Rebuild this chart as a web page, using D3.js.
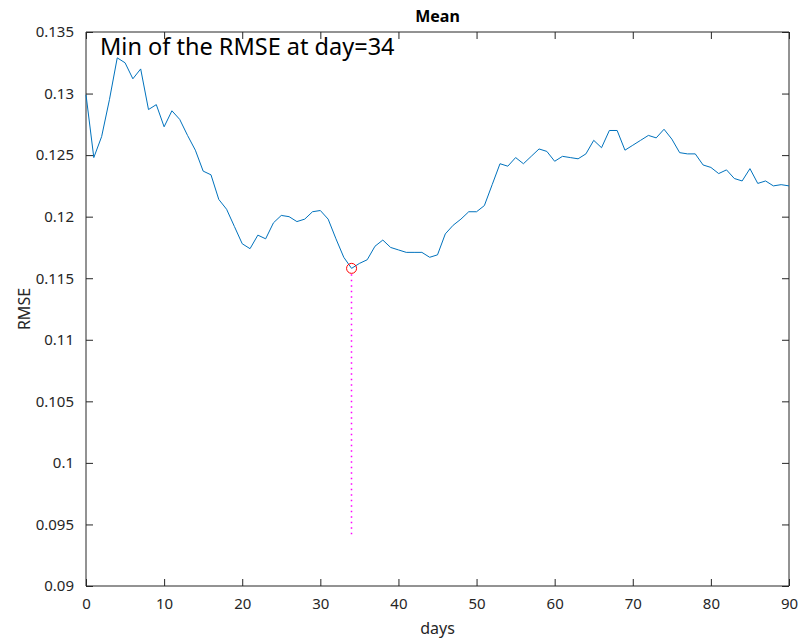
<!DOCTYPE html>
<html><head><meta charset="utf-8">
<script src="https://cdn.jsdelivr.net/npm/d3@7"></script>
<style>body{margin:0;background:#fff;} svg{display:block;}</style>
</head><body>
<script>
const days = d3.range(0, 91);
const rmse = [
0.1299,0.1248,0.1265,0.1295,0.1329,0.1325,0.1312,0.1320,0.1287,0.1291,
0.1273,0.1286,0.1279,0.1266,0.1254,0.1237,0.1234,0.1214,0.1206,0.1192,
0.1178,0.1174,0.1185,0.1182,0.1195,0.1201,0.1200,0.1196,0.1198,0.1204,
0.1205,0.1198,0.1182,0.1167,0.1158,0.1162,0.1165,0.1176,0.1181,0.1175,
0.1173,0.1171,0.1171,0.1171,0.1167,0.1169,0.1186,0.1193,0.1198,0.1204,
0.1204,0.1209,0.1226,0.1243,0.1241,0.1248,0.1243,0.1249,0.1255,0.1253,
0.1245,0.1249,0.1248,0.1247,0.1251,0.1262,0.1256,0.1270,0.1270,0.1254,
0.1258,0.1262,0.1266,0.1264,0.1271,0.1263,0.1252,0.1251,0.1251,0.1242,
0.1240,0.1235,0.1238,0.1231,0.1229,0.1239,0.1227,0.1229,0.1225,0.1226,
0.1225];
const xTicks = [0,10,20,30,40,50,60,70,80,90];
const yTicks = [0.09,0.095,0.1,0.105,0.11,0.115,0.12,0.125,0.13,0.135];
const yTickLabels = ["0.09","0.095","0.1","0.105","0.11","0.115","0.12","0.125","0.13","0.135"];
const minDay = 34;
const dropTo = 0.094;
const titleText = "Mean", xLabel = "days", yLabel = "RMSE";
const annotation = "Min of the RMSE at day=34";

const W = 804, H = 644;
const m = {l:86, r:15, t:32, b:58};
const svg = d3.select("body").append("svg").attr("width", W).attr("height", H)
  .style("font-family", "'Noto Sans', 'Open Sans', sans-serif");
const x = d3.scaleLinear().domain([0, 90]).range([m.l, W - m.r]);
const y = d3.scaleLinear().domain([0.09, 0.135]).range([H - m.b, m.t]);
const axisColor = "#262626";

const tl = 7;
const gx = svg.append("g").attr("transform", `translate(0,${H - m.b})`)
  .call(d3.axisBottom(x).tickValues(xTicks).tickSize(-tl).tickPadding(12).tickFormat(d3.format("d")));
const gxt = svg.append("g").attr("transform", `translate(0,${m.t})`)
  .call(d3.axisTop(x).tickValues(xTicks).tickSize(-tl).tickFormat(""));
const gy = svg.append("g").attr("transform", `translate(${m.l},0)`)
  .call(d3.axisLeft(y).tickValues(yTicks).tickSize(-tl).tickPadding(12).tickFormat((d,i) => yTickLabels[i]));
const gyr = svg.append("g").attr("transform", `translate(${W - m.r},0)`)
  .call(d3.axisRight(y).tickValues(yTicks).tickSize(-tl).tickFormat(""));
[gx, gxt, gy, gyr].forEach(g => {
  g.select(".domain").attr("stroke", axisColor);
  g.selectAll(".tick line").attr("stroke", axisColor);
  g.selectAll(".tick text").attr("fill", axisColor).style("font-size", "15px")
   .style("font-family", "'Noto Sans', 'Open Sans', sans-serif");
});
gx.selectAll(".domain").attr("d", `M${m.l},0H${W - m.r}`);
gxt.selectAll(".domain").attr("d", `M${m.l},0H${W - m.r}`);
gy.selectAll(".domain").attr("d", `M0,${m.t}V${H - m.b}`);
gyr.selectAll(".domain").attr("d", `M0,${m.t}V${H - m.b}`);

svg.append("path").datum(days.map((d, i) => [d, rmse[i]]))
  .attr("fill", "none").attr("stroke", "#0072BD").attr("stroke-width", 1)
  .attr("d", d3.line().x(d => x(d[0])).y(d => y(d[1])));

const mx = Math.floor(x(minDay)) + 0.5;
svg.append("line").attr("x1", mx).attr("x2", mx)
  .attr("y1", y(rmse[minDay]) + 6).attr("y2", y(dropTo))
  .attr("stroke", "#FF00FF").attr("stroke-width", 1.5).attr("stroke-dasharray", "1.5,4");
svg.append("circle").attr("cx", x(minDay)).attr("cy", y(rmse[minDay])).attr("r", 5)
  .attr("fill", "none").attr("stroke", "#FF0000").attr("stroke-width", 1);

svg.append("text").attr("x", (m.l + W - m.r) / 2).attr("y", 22).attr("text-anchor", "middle")
  .style("font-size", "16px").style("font-weight", "bold").attr("fill", "#000").text(titleText);
svg.append("text").attr("x", 100).attr("y", 55)
  .style("font-size", "23.5px").attr("fill", "#000").text(annotation);
svg.append("text").attr("x", (m.l + W - m.r) / 2).attr("y", 634).attr("text-anchor", "middle")
  .style("font-size", "16px").attr("fill", axisColor).text(xLabel);
svg.append("text").attr("transform", `translate(30,${(m.t + H - m.b) / 2}) rotate(-90)`)
  .attr("text-anchor", "middle").style("font-size", "16px").attr("fill", axisColor).text(yLabel);
</script>
</body></html>
